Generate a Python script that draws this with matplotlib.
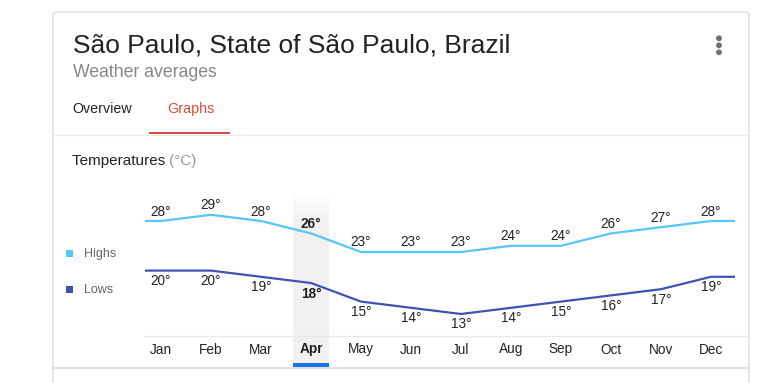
import numpy as np
import matplotlib
matplotlib.use("Agg")
import matplotlib.pyplot as plt
from matplotlib.patches import FancyBboxPatch, Rectangle, Circle

plt.rcParams['font.family'] = ['Liberation Sans', 'DejaVu Sans']

# ---------------- data ----------------
months = ["Jan", "Feb", "Mar", "Apr", "May", "Jun", "Jul", "Aug", "Sep", "Oct", "Nov", "Dec"]
highs = [28, 29, 28, 26, 23, 23, 23, 24, 24, 26, 27, 28]
lows = [20, 20, 19, 18, 15, 14, 13, 14, 15, 16, 17, 19]
series_names = ["Highs", "Lows"]
selected_month = "Apr"
title = "São Paulo, State of São Paulo, Brazil"
subtitle = "Weather averages"
tabs = ["Overview", "Graphs"]
chart_title = "Temperatures"
unit = "(°C)"

HIGH_C = "#56c5f7"
LOW_C = "#3f51b5"

W, H = 779, 383
DPI = 100
fig = plt.figure(figsize=(W / DPI, H / DPI), dpi=DPI)
fig.patch.set_facecolor("white")

def px(p):
    return p * 72.0 / DPI  # pixels -> points

# canvas axes in pixel coordinates
cv = fig.add_axes([0, 0, 1, 1])
cv.set_xlim(0, W)
cv.set_ylim(H, 0)
cv.axis("off")
cv.set_zorder(0)

# card
card = FancyBboxPatch((53, 12), 696, 420, boxstyle="round,pad=0,rounding_size=4",
                      facecolor="white", edgecolor="#dfe1e5", linewidth=1.2)
cv.add_patch(card)

# title + subtitle
cv.text(73, 53, title, fontsize=px(26.4), color="#222222", va="baseline", ha="left")
cv.text(73, 77, subtitle, fontsize=px(17.6), color="#878787", va="baseline", ha="left")

# menu dots
for yy in (38.3, 45.3, 52.3):
    cv.add_patch(Circle((719, yy), 2.2, color="#707070"))

# tabs
cv.text(72, 113, tabs[0], fontsize=px(14.2), color="#222222", va="baseline", ha="left")
cv.text(167, 113, tabs[1], fontsize=px(14.2), color="#dd4b39", va="baseline", ha="left")
cv.add_patch(Rectangle((149, 131.5), 81, 2.2, color="#dd4b39", lw=0))
cv.plot([53, 749], [135, 135], color="#ebebeb", lw=1)

# chart title
t1 = cv.text(72, 165, chart_title + " ", fontsize=px(15.2), color="#222222", va="baseline", ha="left")
fig.canvas.draw()
bb = t1.get_window_extent()
x_end = bb.x1
cv.text(x_end, 165, unit, fontsize=px(15.2), color="#999999", va="baseline", ha="left")

# bottom separator
cv.plot([53, 749], [368, 368], color="#dadce0", lw=1.2)

# legend
for name, col, yc, yb in zip(series_names, [HIGH_C, LOW_C], [253.5, 289], [257.5, 293]):
    cv.add_patch(Rectangle((66.5, yc - 3.5), 7, 7, color=col, lw=0))
    cv.text(84, yb, name, fontsize=px(12.5), color="#666666", va="baseline", ha="left")

# ---------------- chart axes ----------------
ax_l, ax_r, ax_t, ax_b = 144, 749, 192, 336
ax = fig.add_axes([ax_l / W, (H - ax_b) / H, (ax_r - ax_l) / W, (ax_b - ax_t) / H])
ax.set_zorder(2)
ax.patch.set_alpha(0)

x = np.arange(len(months))
# pixel scale: month spacing 50 px, first month at 161 px; 6.2 px per degree, 28 deg at 221 px
ax.set_xlim((ax_l - 161) / 50.0, (ax_r - 161) / 50.0)
ax.set_ylim(28 - (ax_b - 221) / 6.2, 28 + (221 - ax_t) / 6.2)

# highlighted month band (with faded top), extends to the blue indicator
sel = months.index(selected_month)
grad = np.ones((100, 1, 4))
grad[..., :3] = 0.949
alpha = np.ones(100)
alpha[:18] = np.linspace(0.0, 1.0, 18)
grad[:, 0, 3] = alpha
ylo, yhi = ax.get_ylim()
band_bottom = ylo - (363 - ax_b) / 6.2
ax.imshow(grad, extent=(sel - 0.36, sel + 0.36, band_bottom, yhi), aspect="auto",
          zorder=0, clip_on=False, interpolation="bilinear")
ax.add_patch(Rectangle((sel - 0.36, band_bottom), 0.72, -3.6 / 6.2, color="#1a73e8",
                       lw=0, clip_on=False, zorder=1))
ax.set_xlim((ax_l - 161) / 50.0, (ax_r - 161) / 50.0)
ax.set_ylim(ylo, yhi)

# lines with flat ends across the plot width
x_ext = np.concatenate([[(145 - 161) / 50.0], x, [(735 - 161) / 50.0]])
for vals, col in [(highs, HIGH_C), (lows, LOW_C)]:
    v = np.asarray(vals, float)
    v_ext = np.concatenate([[v[0]], v, [v[-1]]])
    ax.plot(x_ext, v_ext, color=col, lw=px(2.2), solid_capstyle="butt", zorder=3)

LBL = px(13.6)
for i, (h, l) in enumerate(zip(highs, lows)):
    weight = "bold" if i == sel else "normal"
    ax.annotate(f"{h}°", (i, h), xytext=(0, 9.5), textcoords="offset pixels",
                ha="center", va="center", fontsize=LBL, color="#222222",
                fontweight=weight, zorder=4)
    ax.annotate(f"{l}°", (i, l), xytext=(0, -10.5), textcoords="offset pixels",
                ha="center", va="center", fontsize=LBL, color="#222222",
                fontweight=weight, zorder=4)

ax.set_xticks(x)
ax.set_xticklabels(months, fontsize=LBL, color="#222222")
for i, lab in enumerate(ax.get_xticklabels()):
    if i == sel:
        lab.set_fontweight("bold")
ax.tick_params(axis="x", length=0, pad=px(6.5))
ax.set_yticks([])
for s in ("top", "left", "right"):
    ax.spines[s].set_visible(False)
ax.spines["bottom"].set_color("#e8e8e8")
ax.spines["bottom"].set_linewidth(1)

fig.savefig("out.png", dpi=DPI, facecolor="white")
